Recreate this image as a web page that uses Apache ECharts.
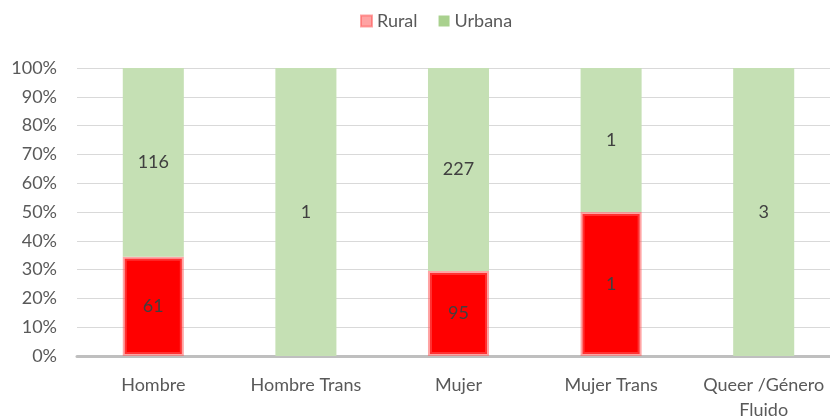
<!DOCTYPE html>
<html>
<head>
<meta charset="utf-8">
<script src="https://cdn.jsdelivr.net/npm/echarts@6/dist/echarts.min.js"></script>
<style>
  html, body { margin: 0; padding: 0; background: #fff; overflow: hidden; }
  /* plot area runs past the right edge of the picture, like the original */
  #chart { width: 840px; height: 420px; }
</style>
</head>
<body>
<div id="chart"></div>
<script>
const categories = ["Hombre", "Hombre Trans", "Mujer", "Mujer Trans", "Queer /Género Fluido"]
const rural = [61, 0, 95, 1, 0]
const urbana = [116, 1, 227, 1, 3]
const yTicks = { min: 0, max: 100, interval: 10 }

const totals = categories.map((_, i) => rural[i] + urbana[i])
// percentage of each column, keeping the raw count for the label
const share = (arr) => arr.map((v, i) => ({
  value: totals[i] ? v / totals[i] * 100 : 0,
  count: v,
  itemStyle: v ? undefined : { borderWidth: 0, opacity: 0 }
}))

const font = "Lato, 'Open Sans', sans-serif"

const chart = echarts.init(document.getElementById("chart"))

const labelOpt = {
  show: true,
  position: "inside",
  fontFamily: font,
  fontSize: 18,
  color: "#404040",
  formatter: (p) => p.data.count ? String(p.data.count) : ""
}

chart.setOption({
  animation: false,
  backgroundColor: "#fff",
  legend: {
    top: 7,
    left: 355,
    itemWidth: 11,
    itemHeight: 11,
    itemGap: 21,
    icon: "rect",
    textStyle: { fontFamily: font, fontSize: 18, color: "#595959" },
    data: [
      { name: "Rural", itemStyle: { color: "#ffa3a3" } },
      { name: "Urbana", itemStyle: { color: "#a9d18e" } }
    ]
  },
  grid: { left: 77, top: 68, right: 0, bottom: 64, containLabel: false, outerBoundsMode: "none" },
  xAxis: {
    type: "category",
    data: categories,
    axisTick: { show: false },
    axisLine: { lineStyle: { color: "#bfbfbf", width: 3 } },
    axisLabel: {
      interval: 0,
      margin: 17,
      fontFamily: font,
      fontSize: 18,
      color: "#595959",
      lineHeight: 25,
      formatter: (v) => v.length > 14 ? v.replace(" Fluido", "\nFluido") : v
    }
  },
  yAxis: {
    type: "value",
    min: yTicks.min,
    max: yTicks.max,
    interval: yTicks.interval,
    axisLine: { show: false },
    axisTick: { show: false },
    splitLine: { lineStyle: { color: "#d9d9d9", width: 1 } },
    axisLabel: {
      margin: 20,
      fontFamily: font,
      fontSize: 18,
      color: "#595959",
      formatter: "{value}%"
    }
  },
  series: [
    {
      name: "Rural",
      type: "bar",
      stack: "total",
      barWidth: "40%",
      data: share(rural),
      itemStyle: {
        color: "#ff0000",
        borderColor: "rgba(255,90,90,0.55)",
        borderWidth: 4
      },
      label: labelOpt
    },
    {
      name: "Urbana",
      type: "bar",
      stack: "total",
      barWidth: "40%",
      data: share(urbana),
      itemStyle: { color: "#c5e0b4" },
      label: labelOpt
    }
  ]
})
</script>
</body>
</html>
